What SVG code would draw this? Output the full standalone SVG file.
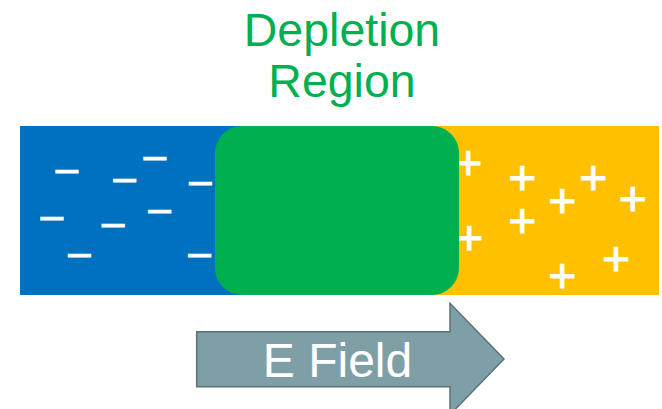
<svg xmlns="http://www.w3.org/2000/svg" width="662" height="409" viewBox="0 0 662 409">
<style>
.sign{font-family:"Liberation Sans",Arial,sans-serif;fill:#fff;stroke:#fff;stroke-width:1;text-anchor:middle}
.plus{font-size:48px}
.minus{font-size:40px}
.title{font-family:"Liberation Sans",Arial,sans-serif;font-size:46.5px;fill:#00B050;text-anchor:middle}
.label{font-family:"Liberation Sans",Arial,sans-serif;font-size:48px;fill:#fff;text-anchor:middle}
</style>
<rect width="662" height="409" fill="#fff"/>
<g id="title">
<text class="title" x="342" y="46">Depletion</text>
<text class="title" x="342" y="97">Region</text>
</g>
<g id="n-region">
<rect x="20" y="126" width="320" height="169" fill="#0070C0"/>
<text class="sign minus" x="66.8" y="182.4">–</text>
<text class="sign minus" x="154.8" y="169.4">–</text>
<text class="sign minus" x="124.7" y="191.4">–</text>
<text class="sign minus" x="200.3" y="194.4">–</text>
<text class="sign minus" x="51.8" y="229.4">–</text>
<text class="sign minus" x="159.5" y="222.4">–</text>
<text class="sign minus" x="113.2" y="236.4">–</text>
<text class="sign minus" x="79.3" y="266.4">–</text>
<text class="sign minus" x="199.7" y="266.4">–</text>
</g>
<g id="p-region">
<rect x="340" y="126" width="319" height="169" fill="#FFC000"/>
<text class="sign plus" x="468.3" y="179.2">+</text>
<text class="sign plus" x="522.3" y="194.2">+</text>
<text class="sign plus" x="593.3" y="194.2">+</text>
<text class="sign plus" x="562.3" y="216.9">+</text>
<text class="sign plus" x="632.7" y="215.2">+</text>
<text class="sign plus" x="522.3" y="237.2">+</text>
<text class="sign plus" x="469.3" y="254.2">+</text>
<text class="sign plus" x="616" y="275.2">+</text>
<text class="sign plus" x="562.3" y="291.9">+</text>
</g>
<g id="depletion">
<rect x="215" y="126" width="244" height="169" rx="27" ry="27" fill="#00B050"/>
</g>
<g id="connectors">
<g id="e-field">
<path d="M196.7 331.7 H450 V303.3 L504 359 L450 414.7 V386.7 H196.7 Z" fill="#7F9FA6" stroke="#5B7279" stroke-width="1.5" stroke-linejoin="miter"/>
<text class="label" x="337.5" y="376.7">E Field</text>
</g>
</g>
</svg>
